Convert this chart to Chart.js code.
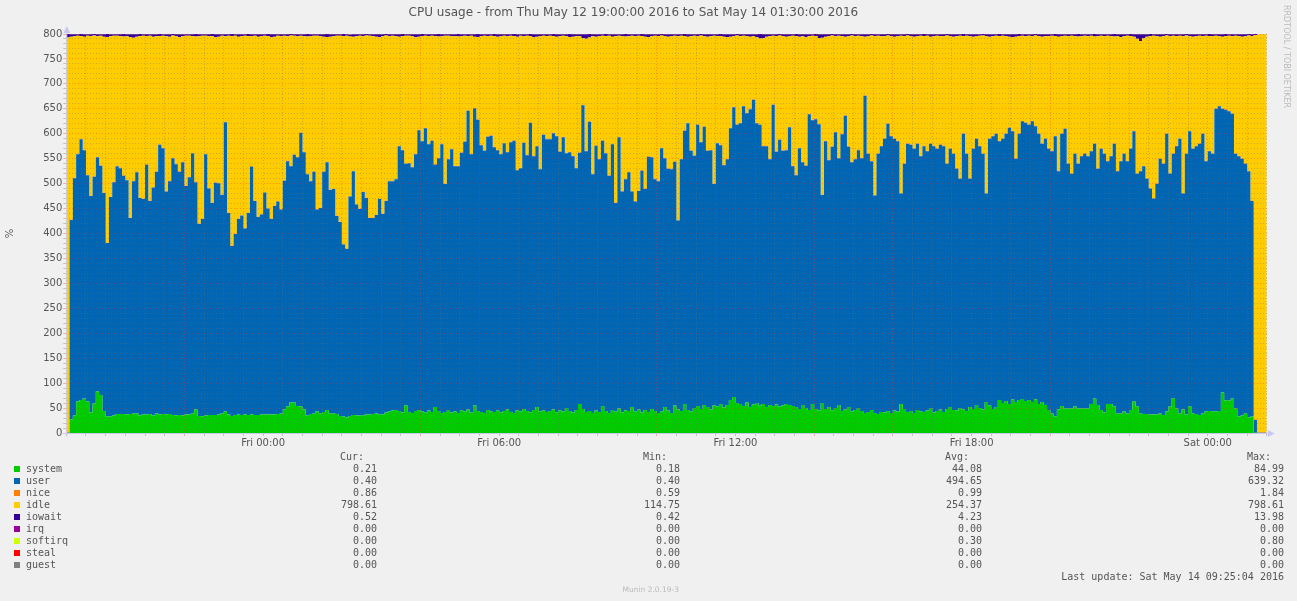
<!DOCTYPE html>
<html>
<head>
<meta charset="utf-8">
<title>CPU usage</title>
<script src="https://cdn.jsdelivr.net/npm/chart.js@4.4.0/dist/chart.umd.min.js"></script>
<style>
html, body { margin: 0; padding: 0; background: #f0f0f0; }
#wrap { position: relative; width: 1297px; height: 601px; overflow: hidden; }
#cpuChart { position: absolute; left: 0; top: 0; }
.t { position: absolute; white-space: pre; font-family: "DejaVu Sans Mono", monospace; font-size: 10px; line-height: 12px; color: #555; }
.sq { position: absolute; width: 6px; height: 6px; }
#rrd { position: absolute; left: 1282px; top: 5px; writing-mode: vertical-rl; font-family: "DejaVu Sans", sans-serif; font-size: 8px; color: #bbb; white-space: nowrap; }
#munin { position: absolute; right: 618px; top: 585px; font-family: "DejaVu Sans", sans-serif; font-size: 7.5px; color: #bbb; white-space: nowrap; }
</style>
</head>
<body>
<div id="wrap">
  <canvas id="cpuChart" width="1297" height="601"></canvas>
  <div id="rrd">RRDTOOL / TOBI OETIKER</div>
  <div id="munin">Munin 2.0.19-3</div>
</div>
<script>
// 5 minute samples, Thu May 12 19:00 -> Sat May 14 01:30 (366 samples)
var titleText = "CPU usage - from Thu May 12 19:00:00 2016 to Sat May 14 01:30:00 2016";
var capacity = 800; // 8 cores

// top of the blue area (system + user)
var busyTop = [16, 0.6,
  427, 511, 559, 589, 567, 517, 475, 514, 553, 536,
  481, 381, 473, 503, 535, 531, 516, 507, 431, 505,
  523, 471, 469, 538, 465, 492, 524, 578, 571, 484,
  505, 551, 539, 524, 543, 495, 513, 561, 503, 419,
  429, 559, 490, 461, 502, 501, 477, 623, 441, 375,
  399, 429, 436, 410, 441, 534, 465, 433, 438,
  482, 450, 429, 455, 464, 448, 506, 545, 535, 558,
  553, 602, 563, 519, 505, 524, 448, 451, 524, 543,
  487, 489, 435, 423, 378, 369, 474, 525, 458, 449,
  483, 471, 431, 431, 437, 469, 439, 465, 505, 505,
  509, 575, 567, 540, 541, 533, 559, 607, 585, 611,
  579, 586, 538, 551, 579, 499, 549, 569, 535, 535,
  562,
  584, 646, 559, 651, 628, 577, 566, 594, 596, 573,
  567, 559, 581, 563, 583, 586, 527, 531, 582, 557,
  622, 555, 575, 529, 598, 589, 589, 601, 595, 564,
  593, 561, 563, 555, 531, 562, 657, 565, 624, 519,
  576, 549, 586, 561, 516, 579, 461, 593, 484, 509,
  523, 484, 464, 485, 526, 489, 554, 553, 509, 505,
  571,
  551, 530, 529, 544, 426, 549, 606, 621, 566, 556,
  618, 583, 614, 566, 567, 499, 581, 577, 537, 549,
  611, 653, 618, 621, 655, 641, 649, 668, 621, 618,
  575, 575, 549, 658, 564, 588, 566, 567, 613, 535,
  517, 571, 543, 536, 639, 627, 629, 619, 477, 585,
  547, 574, 603, 551, 599, 636, 574, 543, 549, 567,
  551,
  676, 560, 545, 476, 560, 575, 590, 620, 595, 590,
  585, 480, 540, 580, 578, 570, 580, 555, 575, 565,
  580, 575, 570, 578, 575, 540, 570, 560, 530, 510,
  600, 560, 510, 570, 590, 575, 560, 480, 590, 595,
  600, 585, 590, 600, 612, 605, 550, 600, 625, 622,
  618, 625, 615, 600, 580, 590, 570, 565, 595, 525,
  600, 610, 540, 520, 560, 540, 555, 560, 555, 565,
  580, 530, 570, 560, 545, 555, 580, 525, 545, 560,
  545, 570, 605, 520, 525, 535, 510, 490, 470, 500,
  550, 540, 600, 520, 560, 575, 590, 480, 560, 605,
  570, 575, 580, 600, 545, 565, 560, 650, 655, 650,
  648, 645, 640, 560, 555, 550, 540, 525, 465,
  26, 0.6, 0.6];

var system = [0.2, 0.18,
  27, 35, 63, 66, 69, 63, 41, 59, 83, 76,
  44, 33, 33, 35, 38, 38, 38, 37, 38, 39,
  39, 35, 37, 37, 38, 35, 39, 37, 38, 37,
  38, 36, 35, 36, 35, 37, 37, 39, 47, 34,
  33, 35, 36, 36, 36, 37, 39, 43, 37, 34,
  36, 37, 36, 37, 36, 37, 36, 36, 37, 37,
  37, 37, 37, 38, 39, 47, 53, 61, 61, 54,
  53, 47, 35, 38, 39, 43, 39, 42, 46, 39,
  39, 38, 34, 33, 31, 34, 36, 35, 35, 35,
  37, 37, 38, 39, 37, 37, 41, 43, 45, 46,
  44, 41, 55, 42, 40, 44, 46, 43, 41, 45,
  42, 52, 44, 40, 42, 46, 41, 43, 40, 45,
  43, 47, 41, 55, 44, 42, 40, 46, 43, 42,
  45, 41, 44, 47, 42, 40, 45, 43, 48, 44,
  41, 46, 52, 43, 45, 42, 44, 47, 41, 45,
  43, 50, 44, 41, 46, 58, 48, 42, 44, 40,
  45, 42, 54, 44, 40, 46, 43, 49, 41, 45,
  44, 52, 43, 47, 41, 46, 42, 48, 44, 40,
  43, 52, 45, 40, 55, 47, 44, 58, 46, 43,
  50, 54, 48, 56, 52, 47, 55, 53, 58, 51,
  56, 66, 72, 60, 58, 54, 61, 52, 57, 60,
  55, 58, 52, 56, 54, 57, 53, 55, 58, 56,
  54, 52, 48, 56, 50, 46, 58, 48, 45, 60,
  48, 52, 45, 50, 56, 44, 47, 52, 43, 46,
  50, 44, 40, 42, 46, 40, 38, 42, 41, 44,
  40, 45, 43, 58, 48, 42, 44, 40, 46, 43,
  42, 45, 50, 41, 44, 47, 42, 48, 52, 46,
  45, 50, 47, 44, 52, 48, 56, 50, 47, 62,
  55, 48, 52, 66, 60, 64, 58, 67, 62, 66,
  68, 64, 66, 62, 67, 58, 62, 56,
  46, 39, 33, 47, 54, 49, 49, 49, 53, 49,
  49, 49, 49, 58, 69, 56, 46, 41, 58, 58,
  53, 39, 39, 43, 39, 46, 63, 53, 39, 38,
  38, 37, 37, 37, 39, 36, 43, 53, 69, 49,
  39, 47, 37, 53, 39, 38, 36, 39, 43, 44,
  43, 43, 44, 81, 65, 65, 69, 49, 33, 35,
  39, 31,
  33, 0.3, 0.21, 0.21];

var nice = [
  0.9,1.8,1.2,1.0,0.9,1.1,1.0,0.8,0.9,1.0, 1.1,0.9,1.0,1.2,0.8,0.9,1.0,1.1,1.0,0.9,
  0.8,1.0,1.1,0.9,1.0,1.3,1.0,0.9,0.8,1.0, 1.0,0.9,1.1,1.0,0.8,0.9,1.2,1.0,0.9,1.0,
  1.1,1.0,0.9,0.8,1.0,1.1,1.0,0.9,1.4,1.0, 0.9,1.0,1.1,0.9,0.8,1.0,1.0,1.2,0.9,1.0,
  1.0,0.9,0.8,1.0,1.1,1.0,0.9,1.0,1.2,1.0, 0.9,1.0,1.1,0.8,0.9,1.0,1.0,1.1,0.9,1.0,
  1.0,1.2,0.9,1.0,0.8,1.0,1.1,0.9,1.0,1.0, 0.9,1.0,1.0,1.1,0.9,0.8,1.0,1.0,1.2,0.9,
  1.0,0.9,1.1,1.0,1.0,0.8,0.9,1.0,1.1,1.0, 0.9,1.0,1.0,1.3,0.9,1.0,0.8,1.0,1.1,0.9,
  1.0,1.0,0.9,1.1,1.0,0.9,1.2,1.0,0.8,1.0, 1.0,1.1,0.9,1.0,1.0,0.9,1.0,1.1,1.0,0.9,
  0.8,1.0,1.0,1.2,0.9,1.0,1.1,1.0,0.9,1.0, 1.0,0.9,1.1,1.0,0.8,1.0,1.0,0.9,1.2,1.0,
  0.9,1.0,1.0,1.1,1.0,0.9,0.8,1.0,1.1,1.0, 1.0,0.9,1.2,1.0,1.0,0.9,1.1,1.0,0.8,1.0,
  1.1,1.0,0.9,1.0,1.0,1.3,0.9,1.0,1.0,1.1, 0.9,1.0,0.8,1.0,1.1,1.0,0.9,1.0,1.2,1.0,
  1.0,0.9,1.0,1.1,1.0,0.9,1.0,0.8,1.0,1.1, 1.0,1.0,0.9,1.2,1.0,0.9,1.0,1.1,1.0,0.9,
  0.8,1.0,1.1,1.0,0.9,1.0,1.0,1.2,0.9,1.0, 1.0,0.9,1.0,1.1,0.8,1.0,1.0,0.9,1.1,1.0,
  0.9,1.0,1.2,1.0,1.0,0.9,1.1,1.0,0.8,1.0, 1.0,1.1,0.9,1.0,1.0,1.3,0.9,1.0,1.1,1.0,
  0.9,1.0,1.0,0.8,1.1,1.0,0.9,1.0,1.2,1.0, 1.0,0.9,1.1,1.0,1.0,0.9,1.0,1.1,0.8,1.0,
  1.1,1.0,0.9,1.0,1.2,1.0,0.9,1.0,1.0,1.1, 0.9,1.0,0.8,1.0,1.1,1.0,1.0,0.9,1.2,1.0,
  1.0,0.9,1.0,1.1,1.0,0.9,0.8,1.0,1.1,1.0, 1.0,1.2,0.9,1.0,1.0,0.9,1.1,1.0,1.0,0.9,
  0.8,1.0,1.1,1.0,0.9,1.0,1.3,1.0,0.9,1.0, 1.0,0.9,1.1,1.0,1.0,0.8,1.0,1.2,0.9,1.0,
  1.1,1.0,0.9,1.0,1.0,1.1,0.9,1.0,0.8,1.0, 1.0,0.9,1.1,1.0,1.2,0.9,1.0,1.0,1.1,0.9,
  1.0,0.9,1.0,1.8,0.9,0.86];

var iowait = [
  8,7,5,4,3,4,5,3,4,3, 4,3,5,6,4,3,3,4,5,4, 6,7,5,4,3,4,3,5,4,4, 3,4,5,3,4,6,4,3,3,4,
  5,4,3,3,4,4,6,5,3,4, 3,4,3,5,4,3,4,4,3,5, 4,3,4,6,5,3,4,3,4,3, 3,4,3,4,5,4,3,3,4,5,
  6,5,4,3,3,4,3,4,5,4, 3,4,3,3,4,5,6,4,3,4, 3,4,5,4,3,3,4,6,5,4, 3,4,3,4,5,4,3,3,4,4,
  5,4,3,4,3,5,6,4,3,4, 3,4,5,4,3,4,3,4,5,3, 4,3,4,6,5,4,3,4,3,4, 5,4,3,4,6,5,4,4,8,9,
  7,4,5,4,3,4,3,5,4,3, 4,5,4,3,4,3,4,5,6,4, 3,4,3,4,5,4,3,4,3,4, 5,4,3,4,3,4,5,4,3,4,
  4,5,6,5,4,3,4,3,4,5, 4,6,9,8,5,4,3,4,3,4, 5,4,3,4,5,4,6,4,3,4, 8,7,5,4,3,4,3,4,5,4,
  3,4,3,4,5,4,3,4,3,4, 4,3,4,5,4,3,4,3,4,5, 4,3,4,3,5,4,3,4,4,3, 4,5,4,3,4,3,4,5,4,3,
  3,4,5,4,3,4,3,4,5,6, 5,4,3,4,3,4,3,4,5,4, 4,3,4,5,4,3,4,3,4,5, 4,3,4,3,5,4,3,4,3,4,
  5,4,6,4,3,4,5,9,14,8, 5,4,3,4,5,4,3,4,3,4, 3,4,3,4,5,4,3,4,3,4, 4,3,4,5,4,3,4,3,4,5,
  4,3,4,2,0.5,0.52];

var softirq = [
  0.3,0.2,0.4,0.3,0.3,0.2,0.3,0.4,0.3,0.2, 0.3,0.3,0.4,0.2,0.3,0.3,0.5,0.3,0.2,0.3,
  0.3,0.4,0.3,0.2,0.3,0.3,0.4,0.3,0.3,0.2, 0.4,0.3,0.3,0.2,0.3,0.5,0.3,0.3,0.4,0.3,
  0.2,0.3,0.3,0.4,0.3,0.2,0.3,0.3,0.6,0.3, 0.3,0.2,0.3,0.4,0.3,0.3,0.2,0.3,0.4,0.3,
  0.3,0.3,0.2,0.4,0.3,0.3,0.3,0.5,0.3,0.2, 0.3,0.4,0.3,0.3,0.2,0.3,0.3,0.4,0.3,0.3,
  0.2,0.3,0.4,0.3,0.3,0.2,0.3,0.8,0.3,0.3, 0.4,0.3,0.2,0.3,0.3,0.4,0.3,0.3,0.2,0.3,
  0.3,0.4,0.3,0.2,0.3,0.3,0.5,0.3,0.3,0.2, 0.3,0.3,0.4,0.3,0.2,0.3,0.3,0.4,0.3,0.3,
  0.2,0.3,0.3,0.4,0.3,0.3,0.2,0.3,0.5,0.3, 0.3,0.2,0.3,0.4,0.3,0.3,0.3,0.2,0.4,0.3,
  0.3,0.3,0.2,0.3,0.4,0.3,0.3,0.6,0.3,0.2, 0.3,0.4,0.3,0.3,0.2,0.3,0.3,0.4,0.3,0.3,
  0.2,0.3,0.4,0.3,0.3,0.2,0.3,0.3,0.5,0.3, 0.3,0.2,0.3,0.4,0.3,0.3,0.2,0.3,0.4,0.3,
  0.3,0.3,0.2,0.4,0.3,0.3,0.3,0.5,0.3,0.2, 0.3,0.4,0.3,0.3,0.2,0.3,0.3,0.4,0.3,0.3,
  0.2,0.3,0.4,0.3,0.3,0.2,0.3,0.7,0.3,0.3, 0.4,0.3,0.2,0.3,0.3,0.4,0.3,0.3,0.2,0.3,
  0.3,0.4,0.3,0.2,0.3,0.3,0.5,0.3,0.3,0.2, 0.3,0.3,0.4,0.3,0.2,0.3,0.3,0.4,0.3,0.3,
  0.2,0.3,0.3,0.4,0.3,0.3,0.2,0.3,0.5,0.3, 0.3,0.2,0.3,0.4,0.3,0.3,0.3,0.2,0.4,0.3,
  0.3,0.3,0.2,0.3,0.4,0.3,0.3,0.6,0.3,0.2, 0.3,0.4,0.3,0.3,0.2,0.3,0.3,0.4,0.3,0.3,
  0.2,0.3,0.4,0.3,0.3,0.2,0.3,0.3,0.5,0.3, 0.3,0.2,0.3,0.4,0.3,0.3,0.2,0.3,0.4,0.3,
  0.3,0.3,0.2,0.4,0.3,0.3,0.3,0.5,0.3,0.2, 0.3,0.4,0.3,0.3,0.2,0.3,0.3,0.4,0.3,0.3,
  0.2,0.3,0.4,0.3,0.3,0.2,0.3,0.3,0.5,0.3, 0.3,0.2,0.3,0.4,0.3,0.3,0.2,0.3,0.4,0.3,
  0.3,0.3,0.2,0.4,0.3,0.3,0.3,0.5,0.3,0.2, 0.3,0.4,0.3,0.3,0.2,0.3,0.3,0.4,0.3,0.3,
  0.3,0.2,0.3,0.1,0,0];

var irq = new Array(366).fill(0);
var steal = new Array(366).fill(0);
var guest = new Array(366).fill(0);

// x axis: minutes after Thu 19:00
var tickMinutes = [300, 660, 1020, 1380, 1740];
var tickLabels = ["Fri 00:00", "Fri 06:00", "Fri 12:00", "Fri 18:00", "Sat 00:00"];

// legend table
var legendNames = ["system", "user", "nice", "idle", "iowait", "irq", "softirq", "steal", "guest"];
var legendColors = ["#00CC00", "#0066B3", "#FF8000", "#FFCC00", "#330099", "#990099", "#CCFF00", "#FF0000", "#808080"];
var curVals = ["0.21", "0.40", "0.86", "798.61", "0.52", "0.00", "0.00", "0.00", "0.00"];
var minVals = ["0.18", "0.40", "0.59", "114.75", "0.42", "0.00", "0.00", "0.00", "0.00"];
var avgVals = ["44.08", "494.65", "0.99", "254.37", "4.23", "0.00", "0.30", "0.00", "0.00"];
var maxVals = ["84.99", "639.32", "1.84", "798.61", "13.98", "0.00", "0.80", "0.00", "0.00"];
var lastUpdate = "Last update: Sat May 14 09:25:04 2016";

// user is what sits between the green top and the blue top, idle is what is left of the 800%
var user = busyTop.map(function (v, i) { return v - system[i]; });
var idle = busyTop.map(function (v, i) { return capacity - v - nice[i] - iowait[i] - softirq[i]; });

function pts(arr) {
  var p = arr.map(function (v, i) { return { x: i * 5, y: v }; });
  p.push({ x: arr.length * 5, y: arr[arr.length - 1] }); // close the last 5 minute step
  return p;
}

var series = [system, user, nice, idle, iowait, irq, softirq, steal, guest];
var datasets = series.map(function (arr, k) {
  return {
    label: legendNames[k],
    data: pts(arr),
    backgroundColor: legendColors[k],
    borderColor: legendColors[k],
    borderWidth: 0,
    pointRadius: 0,
    stepped: "after",
    fill: k === 0 ? "origin" : "-1"
  };
});

var minorGrid = "rgba(110,110,110,0.35)";
var majorGrid = "rgba(255,40,40,0.35)";

var plotDecor = {
  id: "plotDecor",
  beforeDraw: function (chart) {
    var a = chart.chartArea, c = chart.ctx;
    c.save();
    c.fillStyle = "#ffffff";
    c.fillRect(a.left, a.top, a.right - a.left, a.bottom - a.top);
    c.restore();
  },
  afterDraw: function (chart) {
    var a = chart.chartArea, c = chart.ctx;
    c.save();
    c.strokeStyle = "#c8c8f0";
    c.fillStyle = "#c8c8f0";
    c.lineWidth = 1;
    c.beginPath();
    c.moveTo(a.left + 0.5, a.bottom + 3);
    c.lineTo(a.left + 0.5, a.top - 4);
    c.moveTo(a.left - 3, a.bottom + 0.5);
    c.lineTo(a.right + 4, a.bottom + 0.5);
    c.stroke();
    c.beginPath();
    c.moveTo(a.left - 3, a.top - 1);
    c.lineTo(a.left + 4, a.top - 1);
    c.lineTo(a.left + 0.5, a.top - 8);
    c.closePath();
    c.fill();
    c.beginPath();
    c.moveTo(a.right + 1, a.bottom - 3);
    c.lineTo(a.right + 1, a.bottom + 4);
    c.lineTo(a.right + 8, a.bottom + 0.5);
    c.closePath();
    c.fill();
    c.restore();
  }
};

Chart.defaults.font.family = "'DejaVu Sans', sans-serif";

var ctx = document.getElementById("cpuChart");
var cpuChart = new Chart(ctx, {
  type: "line",
  data: { datasets: datasets },
  options: {
    responsive: false,
    animation: false,
    events: [],
    layout: { padding: { left: 0, right: 30.2, top: 0, bottom: 148 } },
    plugins: {
      legend: { display: false },
      tooltip: { enabled: false },
      title: {
        display: true,
        text: titleText,
        color: "#555",
        font: { size: 12, weight: "normal" },
        padding: { top: 6, bottom: 13.6 }
      }
    },
    scales: {
      x: {
        type: "linear",
        min: 0,
        max: 1830,
        afterFit: function (s) { s.height = 20; },
        ticks: {
          stepSize: 30,
          autoSkip: false,
          maxRotation: 0,
          padding: 1,
          color: "#555",
          font: { size: 10 },
          callback: function (v) {
            var k = tickMinutes.indexOf(v);
            return k >= 0 ? tickLabels[k] : "";
          }
        },
        grid: {
          z: 1,
          tickLength: 3,
          color: function (c) {
            var v = c.tick ? c.tick.value : 0;
            return (v - 60) % 120 === 0 ? majorGrid : minorGrid;
          }
        },
        border: { display: false, dash: [1, 2] }
      },
      y: {
        stacked: true,
        min: 0,
        max: 800,
        afterFit: function (s) { s.width = 66.3; },
        title: { display: true, text: "%", color: "#555", font: { size: 10 }, padding: { top: 4, bottom: 0 } },
        ticks: {
          stepSize: 10,
          autoSkip: false,
          padding: 1,
          color: "#555",
          font: { size: 10 },
          callback: function (v) { return v % 50 === 0 ? String(v) : ""; }
        },
        grid: {
          z: 1,
          tickLength: 3,
          color: function (c) {
            var v = c.tick ? c.tick.value : 0;
            return v % 50 === 0 ? majorGrid : minorGrid;
          }
        },
        border: { display: false, dash: [1, 2] }
      }
    }
  },
  plugins: [plotDecor]
});

// legend table below the plot
var wrap = document.getElementById("wrap");
function addText(str, y, left, right) {
  var d = document.createElement("div");
  d.className = "t";
  d.textContent = str;
  d.style.top = (y - 6) + "px";
  if (right != null) { d.style.right = (1297 - right) + "px"; d.style.textAlign = "right"; }
  else d.style.left = left + "px";
  wrap.appendChild(d);
}
addText("Cur:", 457, 340);
addText("Min:", 457, 643);
addText("Avg:", 457, 945);
addText("Max:", 457, 1247);
legendNames.forEach(function (name, i) {
  var y = 469 + i * 12;
  var sq = document.createElement("div");
  sq.className = "sq";
  sq.style.left = "14px";
  sq.style.top = (y - 3) + "px";
  sq.style.background = legendColors[i];
  wrap.appendChild(sq);
  addText(name, y, 26);
  addText(curVals[i], y, null, 377);
  addText(minVals[i], y, null, 680);
  addText(avgVals[i], y, null, 982);
  addText(maxVals[i], y, null, 1284);
});
addText(lastUpdate, 577, null, 1284);
</script>
</body>
</html>
